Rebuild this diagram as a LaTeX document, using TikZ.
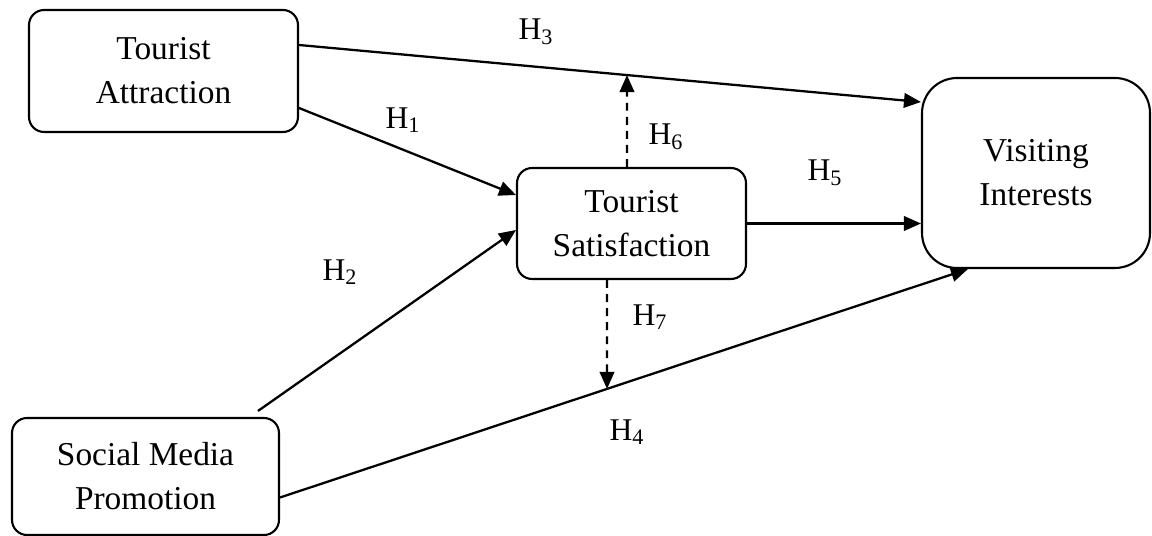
\documentclass[tikz,border=0pt]{standalone}
\usepackage{fontspec}
\setmainfont{Liberation Serif}
\usetikzlibrary{arrows.meta}

\begin{document}
\begin{tikzpicture}[x=0.02cm,y=-0.02cm]
    \tikzset{
      varbox/.style={shape=rectangle,draw,line width=1.2pt,rounded corners=0.3cm,align=center,font=\fontsize{19}{25}\selectfont},
      hyp/.style={font=\fontsize{18}{22}\selectfont},
      hpath/.style={line width=1.3pt,-{Triangle[length=0.34cm,width=0.29cm]}},
      hmod/.style={hpath,dash pattern=on 4.5pt off 3.5pt}
    }
    \useasboundingbox (0,0) rectangle (1152,536);
    % variables
    \node[varbox,minimum width=5.38cm,minimum height=2.44cm] (attr) at (163.5,71) {Tourist\\Attraction};
    \node[varbox,minimum width=5.34cm,minimum height=2.34cm] (promo) at (145.5,476.5) {Social Media\\Promotion};
    \node[varbox,minimum width=4.58cm,minimum height=2.22cm] (satis) at (631.5,223.5) {Tourist\\Satisfaction};
    \node[varbox,rounded corners=0.7cm,minimum width=4.56cm,minimum height=3.8cm] (visit) at (1036,173) {Visiting\\Interests};
    % end points
    \coordinate (h3s) at ([yshift=0.52cm]attr.east);
    \coordinate (h3e) at ([yshift=1.42cm]visit.west);
    \coordinate (h4s) at ([yshift=-0.42cm]promo.east);
    \coordinate (h4e) at ([xshift=0.94cm]visit.south west);
    \coordinate (h6s) at ([xshift=-0.09cm]satis.north);
    \coordinate (h6u) at ([yshift=3cm]h6s);
    \coordinate (h7s) at ([xshift=-0.49cm]satis.south);
    \coordinate (h7d) at ([yshift=-3cm]h7s);
    % paths
    \draw[hpath] ([yshift=-0.74cm]attr.east) to ([yshift=0.57cm]satis.west);
    \draw[hpath] ([xshift=2.25cm,yshift=0.12cm]promo.north) to ([yshift=-0.13cm]satis.west);
    \draw[hpath] (h3s) to (h3e);
    \draw[hpath] (h4s) to (h4e);
    \draw[hpath] (satis.east) to (satis.east -| visit.west);
    \draw[hmod] (h6s) to (intersection of h3s--h3e and h6s--h6u);
    \draw[hmod] (h7s) to (intersection of h4s--h4e and h7s--h7d);
    % labels
    \node[hyp] (lh1) at (403,120) {H\textsubscript{1}};
    \node[hyp] (lh2) at (340,272) {H\textsubscript{2}};
    \node[hyp] (lh3) at (536,32) {H\textsubscript{3}};
    \node[hyp] (lh4) at (627,432) {H\textsubscript{4}};
    \node[hyp] (lh5) at (825,173) {H\textsubscript{5}};
    \node[hyp] (lh6) at (666,137) {H\textsubscript{6}};
    \node[hyp] (lh7) at (650,317) {H\textsubscript{7}};
\end{tikzpicture}
\end{document}
